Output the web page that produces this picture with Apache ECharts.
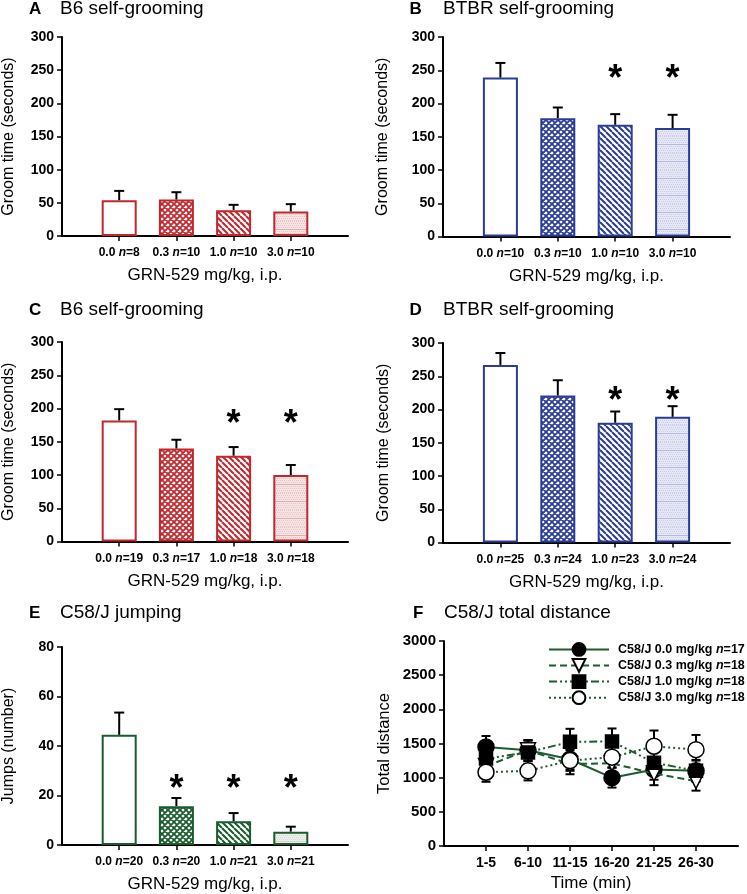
<!DOCTYPE html>
<html><head><meta charset="utf-8">
<script src="https://cdn.jsdelivr.net/npm/echarts@6/dist/echarts.min.js"></script>
<style>html,body{margin:0;padding:0;background:#fff}#c{width:747px;height:894px}</style>
</head><body><div id="c"></div>
<script>
// ---------- data ----------
const doseLabels = ['0.0', '0.3', '1.0', '3.0'];
const nA = [8, 10, 10, 10];
const meanA = [54, 55, 39, 37];
const semA = [14, 11, 8, 11];
const starA = [null, null, null, null];
const nB = [10, 10, 10, 10];
const meanB = [239, 178, 168, 163];
const semB = [22, 16, 16, 20];
const starB = [null, null, 250, 250];
const nC = [19, 17, 18, 18];
const meanC = [182, 140, 129, 100];
const semC = [17, 13, 13, 15];
const starC = [null, null, 190, 190];
const nD = [25, 24, 23, 24];
const meanD = [267, 221, 180, 189];
const semD = [18, 23, 17, 16];
const starD = [null, null, 226, 226];
const nE = [20, 20, 21, 21];
const meanE = [44.5, 15.7, 9.6, 5.4];
const semE = [9, 3.3, 3.3, 2];
const starE = [null, 26.4, 26.4, 26.4];

const timeLabels = ['1-5', '6-10', '11-15', '16-20', '21-25', '26-30'];
const fNames = ['C58/J 0.0 mg/kg', 'C58/J 0.3 mg/kg', 'C58/J 1.0 mg/kg', 'C58/J 3.0 mg/kg'];
const fN = [17, 18, 18, 18];
const f00 = [1450, 1400, 1270, 1000, 1120, 1100];
const s00 = [160, 150, 150, 145, 150, 150];
const f03 = [1170, 1400, 1200, 1210, 1060, 950];
const s03 = [150, 150, 150, 150, 170, 140];
const f10 = [1280, 1370, 1525, 1530, 1220, 1100];
const s10 = [150, 170, 190, 190, 160, 160];
const f30 = [1080, 1100, 1250, 1300, 1460, 1410];
const s30 = [140, 140, 150, 150, 230, 215];

// ---------- styles ----------
const FF = 'Arial, "Liberation Sans", sans-serif';
const RED = '#c1272d', BLUE = '#2b3c98', GREEN = '#1b5c2e';

function tile(w, h, draw) {
  const c = document.createElement('canvas'); c.width = w; c.height = h;
  const g = c.getContext('2d'); draw(g, w, h);
  return { image: c, repeat: 'repeat' };
}
function crossPat(col) {
  return tile(6, 6, (g, w, h) => {
    g.fillStyle = '#fff'; g.fillRect(0, 0, w, h);
    g.strokeStyle = col; g.lineWidth = 1.8; g.beginPath();
    for (let k = -1; k <= 1; k++) {
      g.moveTo(k * w, 0); g.lineTo(k * w + w, h);
      g.moveTo(k * w + w, 0); g.lineTo(k * w, h);
    }
    g.stroke();
  });
}
function stripePat(col) {
  return tile(6, 6, (g, w, h) => {
    g.fillStyle = '#fff'; g.fillRect(0, 0, w, h);
    g.strokeStyle = col; g.lineWidth = 2; g.beginPath();
    for (let k = -1; k <= 1; k++) { g.moveTo(k * w, 0); g.lineTo(k * w + w, h); }
    g.stroke();
  });
}
function lightPat(bg, dot, line) {
  return tile(4, 17, (g, w, h) => {
    g.fillStyle = bg; g.fillRect(0, 0, w, h);
    g.fillStyle = dot;
    for (let y = 0; y < h; y += 2) for (let x = (y / 2) % 2; x < w; x += 2) g.fillRect(x, y, 1, 1);
    g.fillStyle = line; g.fillRect(0, 8, w, 1);
  });
}
function fills(col, bg, dot, line) {
  return ['#ffffff', crossPat(col), stripePat(col), lightPat(bg, dot, line)];
}
const fillRed = fills(RED, '#f6e3e3', '#eac3c4', '#e3aeb0');
const fillBlue = fills(BLUE, '#e6e8f5', '#c8cce8', '#b3b9df');
const fillGreen = fills(GREEN, '#eceeea', '#d5dad4', '#d0d6cf');

function errUp(params, api) {
  const x = api.value(0), m = api.value(1), e = api.value(2);
  const p0 = api.coord([x, m]), p1 = api.coord([x, m + e]);
  return { type: 'group', children: [
    { type: 'line', shape: { x1: p0[0], y1: p0[1], x2: p1[0], y2: p1[1] }, style: { stroke: '#000', lineWidth: 2 } },
    { type: 'line', shape: { x1: p1[0] - 5, y1: p1[1], x2: p1[0] + 5, y2: p1[1] }, style: { stroke: '#000', lineWidth: 2 } }
  ] };
}
function errBoth(params, api) {
  const x = api.value(0), m = api.value(1), e = api.value(2);
  const p0 = api.coord([x, m - e]), p1 = api.coord([x, m + e]);
  return { type: 'group', children: [
    { type: 'line', shape: { x1: p0[0], y1: p0[1], x2: p1[0], y2: p1[1] }, style: { stroke: '#000', lineWidth: 2 } },
    { type: 'line', shape: { x1: p1[0] - 4.5, y1: p1[1], x2: p1[0] + 4.5, y2: p1[1] }, style: { stroke: '#000', lineWidth: 2 } },
    { type: 'line', shape: { x1: p0[0] - 4.5, y1: p0[1], x2: p0[0] + 4.5, y2: p0[1] }, style: { stroke: '#000', lineWidth: 2 } }
  ] };
}
function starItem(params, api) {
  const p = api.coord([api.value(0), api.value(1)]);
  return { type: 'text', x: p[0], y: p[1] + 10,
    style: { text: '*', font: 'bold 36px ' + FF, fill: '#000', align: 'center', verticalAlign: 'middle' } };
}

const richLbl = (size) => ({
  b: { fontFamily: FF, fontWeight: 'bold', fontSize: size, color: '#000' },
  i: { fontFamily: FF, fontWeight: 'bold', fontStyle: 'italic', fontSize: size, color: '#000' }
});
const axLine = { show: true, onZero: false, lineStyle: { color: '#000', width: 2 } };
const axTick = { show: true, length: 5, lineStyle: { color: '#000', width: 1.5 } };

function barX(gi, nArr) {
  return { type: 'value', gridIndex: gi, min: 0, max: 5, interval: 1,
    axisLine: axLine,
    axisTick: Object.assign({ customValues: [1, 2, 3, 4] }, axTick),
    axisLabel: { customValues: [1, 2, 3, 4], margin: 11, fontFamily: FF, fontWeight: 'bold', fontSize: 12, color: '#000',
      formatter: v => `{b|${doseLabels[v - 1]}} {i|n}{b|=${nArr[v - 1]}}`, rich: richLbl(12) },
    splitLine: { show: false },
    name: 'GRN-529 mg/kg, i.p.', nameLocation: 'middle', nameGap: 31,
    nameTextStyle: { fontFamily: FF, fontSize: 17, color: '#000' } };
}
function valY(gi, max, interval, name, gap, fs, nfs) {
  return { type: 'value', gridIndex: gi, min: 0, max: max, interval: interval,
    axisLine: axLine, axisTick: axTick,
    axisLabel: { margin: 8, color: '#000', formatter: v => `{t|${v}}`,
      rich: { t: { fontFamily: FF, fontWeight: 'bold', fontSize: fs, color: '#000' } } },
    splitLine: { show: false },
    name: name, nameLocation: 'middle', nameGap: gap,
    nameTextStyle: { fontFamily: FF, fontSize: nfs, color: '#000' } };
}

const grids = [
  { left: 61, top: 37, width: 287, height: 199 },
  { left: 443, top: 37, width: 287, height: 199.5 },
  { left: 61, top: 342, width: 287, height: 199.5 },
  { left: 443, top: 343, width: 287, height: 199.5 },
  { left: 61, top: 647, width: 287, height: 199 },
  { left: 444, top: 641, width: 294, height: 205 }
];

const xAxes = [barX(0, nA), barX(1, nB), barX(2, nC), barX(3, nD), barX(4, nE),
  { type: 'value', gridIndex: 5, min: 0, max: 7, interval: 1,
    axisLine: axLine,
    axisTick: Object.assign({ customValues: [1, 2, 3, 4, 5, 6] }, axTick),
    axisLabel: { customValues: [1, 2, 3, 4, 5, 6], margin: 10.5, color: '#000',
      formatter: v => `{t|${timeLabels[v - 1]}}`,
      rich: { t: { fontFamily: FF, fontWeight: 'bold', fontSize: 14, color: '#000' } } },
    splitLine: { show: false },
    name: 'Time (min)', nameLocation: 'middle', nameGap: 29,
    nameTextStyle: { fontFamily: FF, fontSize: 17, color: '#000' } }
];
const yAxes = [
  valY(0, 300, 50, 'Groom time (seconds)', 45, 14, 16),
  valY(1, 300, 50, 'Groom time (seconds)', 52, 14, 16),
  valY(2, 300, 50, 'Groom time (seconds)', 45, 14, 16),
  valY(3, 300, 50, 'Groom time (seconds)', 51, 14, 16),
  valY(4, 80, 20, 'Jumps (number)', 45, 14, 16),
  valY(5, 3000, 500, 'Total distance', 51, 15, 16.5)
];

const series = [];
const panels = [
  [meanA, semA, starA, RED, fillRed],
  [meanB, semB, starB, BLUE, fillBlue],
  [meanC, semC, starC, RED, fillRed],
  [meanD, semD, starD, BLUE, fillBlue],
  [meanE, semE, starE, GREEN, fillGreen]
];
panels.forEach(([m, s, st, col, fl], gi) => {
  series.push({ type: 'bar', xAxisIndex: gi, yAxisIndex: gi, barWidth: 35, z: 2,
    data: m.map((v, i) => ({ value: [i + 1, v], itemStyle: { color: fl[i] } })),
    itemStyle: { borderColor: col, borderWidth: 2 } });
  series.push({ type: 'custom', xAxisIndex: gi, yAxisIndex: gi, z: 3, renderItem: errUp,
    data: m.map((v, i) => [i + 1, v, s[i]]) });
  const sd = [];
  st.forEach((v, i) => { if (v !== null) sd.push([i + 1, v]); });
  if (sd.length) series.push({ type: 'custom', xAxisIndex: gi, yAxisIndex: gi, z: 4, renderItem: starItem, data: sd });
});

const fSets = [
  [f00, s00, 'solid', 'circle', '#000', 16, 0],
  [f03, s03, [7, 4], 'triangle', '#fff', 15, 180],
  [f10, s10, [8, 3, 2, 3, 2, 3], 'rect', '#000', 13, 0],
  [f30, s30, [2, 3], 'circle', '#fff', 16, 0]
];
fSets.forEach(([m, s], k) => {
  series.push({ type: 'custom', xAxisIndex: 5, yAxisIndex: 5, z: 1, renderItem: errBoth,
    data: m.map((v, i) => [i + 1, v, s[i]]) });
});
fSets.forEach(([m, s, dash, sym, fill, size, rot], k) => {
  series.push({ type: 'line', name: fNames[k], xAxisIndex: 5, yAxisIndex: 5, z: 5 + k,
    data: m.map((v, i) => [i + 1, v]),
    symbol: sym, symbolSize: size, symbolRotate: rot, showAllSymbol: true,
    lineStyle: { color: GREEN, width: 2, type: dash },
    itemStyle: { color: fill, borderColor: '#000', borderWidth: 1.5 } });
});

const titles = [
  ['A', 29, 9, 'B6 self-grooming', 60],
  ['B', 409.5, 9, 'BTBR self-grooming', 443],
  ['C', 29, 310, 'B6 self-grooming', 60],
  ['D', 409.5, 310, 'BTBR self-grooming', 443],
  ['E', 29, 613, 'C58/J jumping', 60],
  ['F', 413, 613, 'C58/J total distance', 444]
];
const graphic = [];
titles.forEach(([l, lx, y, t, tx]) => {
  graphic.push({ type: 'text', x: lx, y: y, style: { text: l, font: 'bold 17px ' + FF, fill: '#000', align: 'left', verticalAlign: 'middle' } });
  graphic.push({ type: 'text', x: tx, y: y, style: { text: t, font: '19px ' + FF, fill: '#000', align: 'left', verticalAlign: 'middle' } });
});

const chart = echarts.init(document.getElementById('c'), null, { renderer: 'canvas' });
chart.setOption({
  animation: false,
  backgroundColor: '#fff',
  grid: grids,
  xAxis: xAxes,
  yAxis: yAxes,
  graphic: graphic,
  legend: { data: fNames, orient: 'vertical', left: 543, top: 637, itemWidth: 60, itemHeight: 16, itemGap: 1.3,
    formatter: name => `{b|${name} }{i|n}{b|=${fN[fNames.indexOf(name)]}}`,
    textStyle: { padding: [0, 0, 0, 4], rich: richLbl(12.5) } },
  series: series
});
</script></body></html>
